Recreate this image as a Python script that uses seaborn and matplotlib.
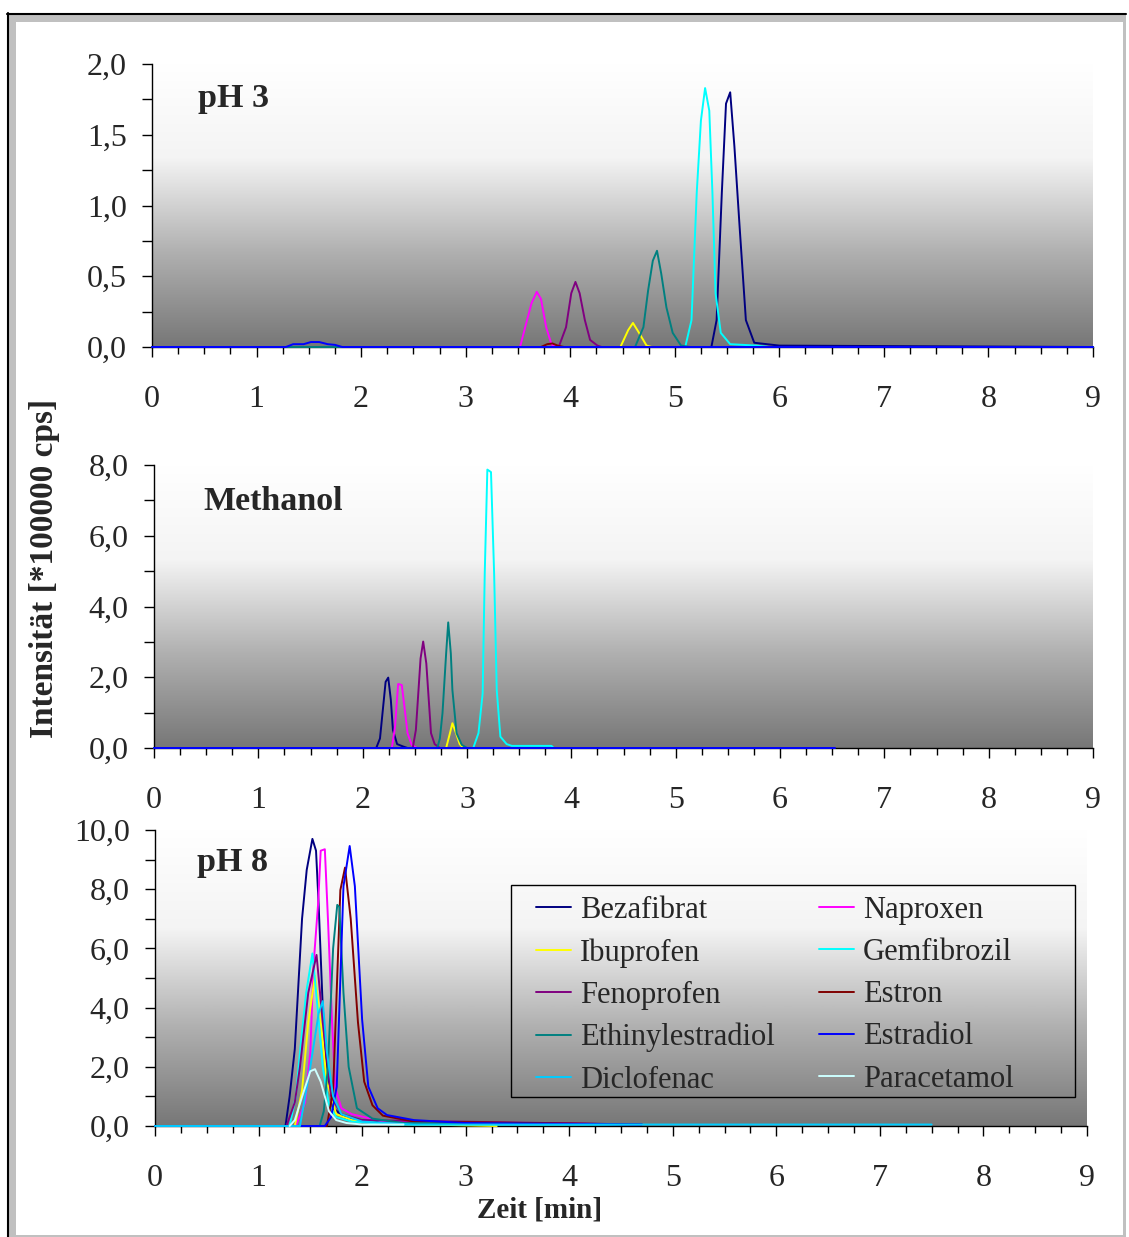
import numpy as np
import pandas as pd
import matplotlib
matplotlib.use("Agg")
import matplotlib.pyplot as plt
import seaborn as sns
from matplotlib.colors import LinearSegmentedColormap
from matplotlib.lines import Line2D
from matplotlib.patches import Rectangle
from matplotlib.ticker import MultipleLocator, FuncFormatter

sns.set_theme(style="white")
plt.rcParams['font.family'] = ['Liberation Serif', 'DejaVu Serif']

# Substanzen und Farben (Excel-Standardreihenfolge)
substanzen = ['Bezafibrat', 'Naproxen', 'Ibuprofen', 'Gemfibrozil', 'Fenoprofen',
              'Estron', 'Ethinylestradiol', 'Estradiol', 'Diclofenac', 'Paracetamol']
farben = ['#000080', '#FF00FF', '#FFFF00', '#00FFFF', '#800080',
          '#800000', '#008080', '#0000FF', '#00CCFF', '#CCFFFF']

# ---- pH 3 ----
ph3_bezafibrat_t = [0, 5.35, 5.40, 5.45, 5.49, 5.53, 5.57, 5.62, 5.68, 5.76, 6.0, 9.0]
ph3_bezafibrat_v = [0, 0, 0.19, 1.09, 1.72, 1.80, 1.42, 0.85, 0.19, 0.03, 0.01, 0]
ph3_naproxen_t = [0, 3.52, 3.58, 3.63, 3.68, 3.72, 3.77, 3.82, 3.86, 9.0]
ph3_naproxen_v = [0, 0, 0.17, 0.31, 0.39, 0.34, 0.14, 0.02, 0, 0]
ph3_ibuprofen_t = [0, 4.48, 4.555, 4.60, 4.65, 4.73, 4.78, 9.0]
ph3_ibuprofen_v = [0, 0, 0.12, 0.17, 0.11, 0.01, 0, 0]
ph3_gemfibrozil_t = [0, 5.10, 5.16, 5.21, 5.25, 5.29, 5.33, 5.36, 5.39, 5.44, 5.53, 5.78, 5.9, 9.0]
ph3_gemfibrozil_v = [0, 0, 0.19, 1.09, 1.60, 1.83, 1.67, 1.09, 0.38, 0.10, 0.02, 0.01, 0, 0]
ph3_fenoprofen_t = [0, 3.89, 3.96, 4.01, 4.05, 4.09, 4.14, 4.19, 4.26, 4.30, 9.0]
ph3_fenoprofen_v = [0, 0, 0.14, 0.38, 0.46, 0.38, 0.19, 0.05, 0.01, 0, 0]
ph3_estron_t = [0, 3.72, 3.78, 3.83, 3.88, 3.94, 9.0]
ph3_estron_v = [0, 0, 0.02, 0.025, 0.01, 0, 0]
ph3_ethinyl_t = [0, 4.62, 4.70, 4.745, 4.79, 4.83, 4.87, 4.92, 4.98, 5.06, 5.15, 9.0]
ph3_ethinyl_v = [0, 0, 0.14, 0.40, 0.61, 0.68, 0.52, 0.28, 0.10, 0.01, 0, 0]
ph3_estradiol_t = [0, 1.28, 1.35, 1.45, 1.52, 1.60, 1.68, 1.75, 1.82, 9.0]
ph3_estradiol_v = [0, 0, 0.02, 0.02, 0.035, 0.035, 0.02, 0.015, 0, 0]

# ---- Methanol ----
meoh_bezafibrat_t = [0, 2.13, 2.166, 2.19, 2.22, 2.245, 2.27, 2.29, 2.33, 2.39, 2.43, 6.5]
meoh_bezafibrat_v = [0, 0, 0.27, 0.98, 1.87, 1.99, 1.36, 0.51, 0.11, 0.04, 0, 0]
meoh_naproxen_t = [0, 2.28, 2.31, 2.34, 2.375, 2.40, 2.43, 2.47, 2.52, 6.5]
meoh_naproxen_v = [0, 0, 0.60, 1.81, 1.78, 1.17, 0.42, 0.09, 0, 0]
meoh_ibuprofen_t = [0, 2.80, 2.84, 2.86, 2.895, 2.93, 2.965, 6.5]
meoh_ibuprofen_v = [0, 0, 0.46, 0.70, 0.42, 0.11, 0, 0]
meoh_gemfibrozil_t = [0, 3.06, 3.11, 3.15, 3.17, 3.195, 3.23, 3.26, 3.285, 3.32, 3.38, 3.43, 3.81, 3.83, 6.5]
meoh_gemfibrozil_v = [0, 0, 0.42, 1.54, 4.93, 7.87, 7.80, 4.93, 1.64, 0.32, 0.11, 0.06, 0.06, 0, 0]
meoh_fenoprofen_t = [0, 2.48, 2.51, 2.555, 2.58, 2.61, 2.655, 2.69, 2.74, 6.5]
meoh_fenoprofen_v = [0, 0, 0.51, 2.53, 3.01, 2.39, 0.42, 0.11, 0, 0]
meoh_estron_t = [0, 6.5]
meoh_estron_v = [0, 0]
meoh_ethinyl_t = [0, 2.715, 2.74, 2.765, 2.80, 2.82, 2.845, 2.86, 2.90, 2.95, 3.0, 6.5]
meoh_ethinyl_v = [0, 0, 0.27, 0.98, 2.67, 3.55, 2.67, 1.64, 0.42, 0.09, 0, 0]
meoh_estradiol_t = [0, 6.53]
meoh_estradiol_v = [0, 0]

# ---- pH 8 ----
ph8_bezafibrat_t = [0, 1.26, 1.30, 1.35, 1.42, 1.465, 1.52, 1.555, 1.58, 1.62, 1.66, 1.72, 1.85, 2.2, 4.7]
ph8_bezafibrat_v = [0, 0, 1.0, 2.6, 7.0, 8.65, 9.70, 9.3, 7.5, 4.0, 1.8, 0.6, 0.25, 0.12, 0.06]
ph8_naproxen_t = [0, 1.36, 1.45, 1.50, 1.53, 1.575, 1.60, 1.64, 1.67, 1.71, 1.74, 1.80, 1.9, 2.2, 4.7]
ph8_naproxen_v = [0, 0, 0.8, 2.5, 5.4, 7.5, 9.3, 9.35, 7.0, 3.5, 1.3, 0.6, 0.4, 0.15, 0.05]
ph8_ibuprofen_t = [0, 1.35, 1.42, 1.48, 1.545, 1.60, 1.66, 1.75, 1.9, 2.2, 3.3]
ph8_ibuprofen_v = [0, 0, 1.2, 3.5, 5.08, 3.5, 1.5, 0.4, 0.2, 0.08, 0]
ph8_gemfibrozil_t = [0, 1.30, 1.36, 1.40, 1.46, 1.52, 1.57, 1.62, 1.68, 1.75, 1.9, 2.3, 4.7]
ph8_gemfibrozil_v = [0, 0, 1.0, 2.5, 4.5, 5.83, 4.0, 2.0, 0.7, 0.3, 0.15, 0.05, 0.05]
ph8_fenoprofen_t = [0, 1.27, 1.35, 1.40, 1.48, 1.56, 1.62, 1.70, 1.80, 2.0, 4.7]
ph8_fenoprofen_v = [0, 0, 0.8, 2.0, 4.5, 5.78, 3.5, 1.0, 0.4, 0.2, 0.05]
ph8_estron_t = [0, 1.66, 1.72, 1.79, 1.835, 1.89, 1.96, 2.02, 2.1, 2.2, 2.5, 4.7]
ph8_estron_v = [0, 0, 1.2, 7.97, 8.73, 7.0, 3.5, 1.5, 0.7, 0.35, 0.15, 0.05]
ph8_ethinyl_t = [0, 1.59, 1.63, 1.67, 1.72, 1.76, 1.78, 1.82, 1.87, 1.95, 2.1, 2.4, 4.7]
ph8_ethinyl_v = [0, 0, 0.5, 2.0, 6.0, 7.47, 7.4, 4.5, 2.0, 0.6, 0.25, 0.1, 0.05]
ph8_estradiol_t = [0, 1.64, 1.70, 1.755, 1.82, 1.88, 1.93, 2.0, 2.06, 2.15, 2.24, 2.5, 3.0, 4.7]
ph8_estradiol_v = [0, 0, 0.3, 1.33, 8.1, 9.46, 8.1, 3.6, 1.33, 0.6, 0.37, 0.2, 0.1, 0.05]
ph8_diclofenac_t = [0, 1.40, 1.50, 1.58, 1.62, 1.66, 1.72, 1.80, 2.0, 2.5, 7.5]
ph8_diclofenac_v = [0, 0, 2.0, 3.8, 4.22, 2.5, 1.0, 0.4, 0.15, 0.05, 0.05]
ph8_paracetamol_t = [1.30, 1.35, 1.43, 1.50, 1.545, 1.60, 1.68, 1.75, 1.85, 2.0, 2.4]
ph8_paracetamol_v = [0, 0.2, 1.1, 1.85, 1.92, 1.5, 0.5, 0.2, 0.1, 0.05, 0.05]

panel_titel = ['pH 3', 'Methanol', 'pH 8']
y_max = [2.0, 8.0, 10.0]
y_major = [0.5, 2.0, 2.0]
y_minor = [0.25, 1.0, 1.0]

ph3 = {'Bezafibrat': (ph3_bezafibrat_t, ph3_bezafibrat_v), 'Naproxen': (ph3_naproxen_t, ph3_naproxen_v),
       'Ibuprofen': (ph3_ibuprofen_t, ph3_ibuprofen_v), 'Gemfibrozil': (ph3_gemfibrozil_t, ph3_gemfibrozil_v),
       'Fenoprofen': (ph3_fenoprofen_t, ph3_fenoprofen_v), 'Estron': (ph3_estron_t, ph3_estron_v),
       'Ethinylestradiol': (ph3_ethinyl_t, ph3_ethinyl_v), 'Estradiol': (ph3_estradiol_t, ph3_estradiol_v)}
meoh = {'Bezafibrat': (meoh_bezafibrat_t, meoh_bezafibrat_v), 'Naproxen': (meoh_naproxen_t, meoh_naproxen_v),
        'Ibuprofen': (meoh_ibuprofen_t, meoh_ibuprofen_v), 'Gemfibrozil': (meoh_gemfibrozil_t, meoh_gemfibrozil_v),
        'Fenoprofen': (meoh_fenoprofen_t, meoh_fenoprofen_v), 'Estron': (meoh_estron_t, meoh_estron_v),
        'Ethinylestradiol': (meoh_ethinyl_t, meoh_ethinyl_v), 'Estradiol': (meoh_estradiol_t, meoh_estradiol_v)}
ph8 = {'Bezafibrat': (ph8_bezafibrat_t, ph8_bezafibrat_v), 'Naproxen': (ph8_naproxen_t, ph8_naproxen_v),
       'Ibuprofen': (ph8_ibuprofen_t, ph8_ibuprofen_v), 'Gemfibrozil': (ph8_gemfibrozil_t, ph8_gemfibrozil_v),
       'Fenoprofen': (ph8_fenoprofen_t, ph8_fenoprofen_v), 'Estron': (ph8_estron_t, ph8_estron_v),
       'Ethinylestradiol': (ph8_ethinyl_t, ph8_ethinyl_v), 'Estradiol': (ph8_estradiol_t, ph8_estradiol_v),
       'Diclofenac': (ph8_diclofenac_t, ph8_diclofenac_v), 'Paracetamol': (ph8_paracetamol_t, ph8_paracetamol_v)}

palette = dict(zip(substanzen, farben))

W, H = 1129, 1237
fig = plt.figure(figsize=(W / 100, H / 100), dpi=100)

def fx(x):
    return x / W

def fy(y):
    return 1 - y / H

# Rahmen des Diagrammbereichs
fig.add_artist(Rectangle((fx(8), fy(1237)), fx(1126) - fx(8), fy(14) - fy(1237),
                         transform=fig.transFigure, facecolor='#c0c0c0', edgecolor='none', zorder=-5))
fig.add_artist(Rectangle((fx(16), fy(1235)), fx(1123) - fx(16), fy(22) - fy(1235),
                         transform=fig.transFigure, facecolor='white', edgecolor='none', zorder=-4))
fig.add_artist(Line2D([fx(7), fx(1126)], [fy(14), fy(14)], transform=fig.transFigure, color='black', lw=1.5))
fig.add_artist(Line2D([fx(8), fx(8)], [fy(13), fy(1237)], transform=fig.transFigure, color='black', lw=1.5))

# Achsenpositionen (links, rechts, oben, unten) in Pixeln
boxes = [(152, 1093, 64, 347), (154, 1093, 465, 748), (155, 1087, 830, 1126)]
titel_pos = [(198, 107), (203, 510), (197, 871)]
verlauf = LinearSegmentedColormap.from_list('verlauf', ['#777777', '#b0b0b0', '#f4f4f4', '#ffffff'])

kommaformat = FuncFormatter(lambda v, p: f"{v:.1f}".replace('.', ','))

axes = []
for i, daten in enumerate([ph3, meoh, ph8]):
    l, r, t, b = boxes[i]
    ax = fig.add_axes([fx(l), fy(b), fx(r) - fx(l), fy(t) - fy(b)])
    axes.append(ax)
    rows = []
    for name, (tt, vv) in daten.items():
        for a, c in zip(tt, vv):
            rows.append((name, a, c))
    df = pd.DataFrame(rows, columns=['Substanz', 'Zeit', 'Intensität'])
    order = [s for s in substanzen if s in daten]
    sns.lineplot(data=df, x='Zeit', y='Intensität', hue='Substanz', hue_order=order,
                 palette=palette, estimator=None, sort=False, legend=False, ax=ax, lw=1.4, zorder=3)
    for ln in ax.lines:
        ln.set_clip_on(False)
    grad = np.linspace(1, 0, 256).reshape(-1, 1)
    ax.imshow(grad, extent=[0, 9, 0, y_max[i]], aspect='auto', cmap=verlauf,
              vmin=0, vmax=1, zorder=0, origin='upper')
    ax.set_xlim(0, 9)
    ax.set_ylim(0, y_max[i])
    ax.set_xlabel('')
    ax.set_ylabel('')
    ax.xaxis.set_major_locator(MultipleLocator(1))
    ax.xaxis.set_minor_locator(MultipleLocator(0.25))
    ax.yaxis.set_major_locator(MultipleLocator(y_major[i]))
    ax.yaxis.set_minor_locator(MultipleLocator(y_minor[i]))
    ax.yaxis.set_major_formatter(kommaformat)
    ax.tick_params(axis='x', which='major', direction='out', length=7.2, width=1, color='black',
                   labelsize=23, pad=20, bottom=True)
    ax.tick_params(axis='x', which='minor', direction='out', length=5, width=1, color='black', bottom=True)
    ax.tick_params(axis='y', which='both', direction='out', length=7.2, width=1, color='black',
                   labelsize=23, pad=11, left=True)
    for s in ['top', 'right']:
        ax.spines[s].set_visible(False)
    for s in ['left', 'bottom']:
        ax.spines[s].set_color('black')
        ax.spines[s].set_linewidth(1)
    ax.set_facecolor('none')
    tx, ty = titel_pos[i]
    fig.text(fx(tx), fy(ty), panel_titel[i], fontsize=24.5, fontweight='bold', ha='left', va='baseline')

# Legende im unteren Diagramm
ax3 = axes[2]
l3, r3, t3, b3 = boxes[2]
def ax3_xy(x, y):
    return ((x - l3) / (r3 - l3), (b3 - y) / (b3 - t3))
x0, y0 = ax3_xy(511, 885)
x1, y1 = ax3_xy(1075, 1097)
ax3.add_patch(Rectangle((x0, y1), x1 - x0, y0 - y1, transform=ax3.transAxes,
                        facecolor='none', edgecolor='black', lw=1, zorder=5))
legend_order = ['Bezafibrat', 'Ibuprofen', 'Fenoprofen', 'Ethinylestradiol', 'Diclofenac',
                'Naproxen', 'Gemfibrozil', 'Estron', 'Estradiol', 'Paracetamol']
handles = [Line2D([], [], color=palette[n], lw=1.4) for n in legend_order]
ax3.legend(handles, legend_order, ncol=2, loc='upper left', bbox_to_anchor=ax3_xy(536, 896),
           frameon=False, fontsize=22, borderpad=0, borderaxespad=0, handlelength=1.14,
           handletextpad=0.29, columnspacing=1.47, labelspacing=0.43)

fig.text(fx(45), fy(568), 'Intensität [*100000 cps]', rotation=90, fontsize=24,
         fontweight='bold', ha='center', va='center')
fig.text(fx(540), fy(1210), 'Zeit [min]', fontsize=21, fontweight='bold', ha='center', va='center')

fig.savefig('out.png', dpi=100)
